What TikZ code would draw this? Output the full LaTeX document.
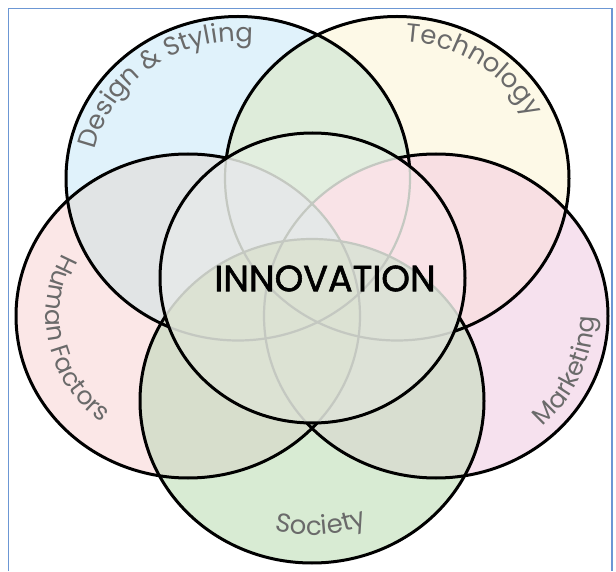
\documentclass[tikz,border=0pt]{standalone}
\usepackage{fontspec}
\setmainfont{Poppins}
\newfontfamily\innofont[FakeBold=1.6]{Poppins}
\usetikzlibrary{decorations.text}
\definecolor{cD}{RGB}{224,242,251}
\definecolor{cT}{RGB}{253,249,231}
\definecolor{cH}{RGB}{251,231,231}
\definecolor{cM}{RGB}{246,225,238}
\definecolor{cS}{RGB}{216,235,211}
\definecolor{cDT}{RGB}{222,236,218}
\definecolor{cTM}{RGB}{248,223,227}
\definecolor{cMS}{RGB}{216,222,208}
\definecolor{cSH}{RGB}{215,222,204}
\definecolor{cHD}{RGB}{225,228,229}
\definecolor{labelgrey}{RGB}{106,106,106}
\definecolor{innergrey}{RGB}{196,200,193}
\definecolor{framecol}{RGB}{108,151,212}
\tikzset{
  outer/.style={x radius=172, y radius=162},
  inner/.style={x radius=152.5, y radius=145},
  blackline/.style={draw=black, line width=3pt},
  innerline/.style={draw=innergrey, line width=2.2pt},
  labelpath/.style={decorate, decoration={text along path, text align=center, text color=labelgrey, text={#1}}}
}
\begin{document}
\begin{tikzpicture}[x=1pt,y=1pt]
\useasboundingbox (0,0) rectangle (616,571);
\fill[white] (0,0) rectangle (616,571);
\coordinate (C) at (312.5,293);
\coordinate (D) at (238,392.5);
\coordinate (T) at (397,392.5);
\coordinate (H) at (188,255);
\coordinate (M) at (436,255);
\coordinate (S) at (312,170);
% single fills
\fill[cD] (D) ellipse[outer];
\fill[cT] (T) ellipse[outer];
\fill[cH] (H) ellipse[outer];
\fill[cM] (M) ellipse[outer];
\fill[cS] (S) ellipse[outer];
% pair overlaps
\begin{scope}\clip (D) ellipse[outer]; \fill[cDT] (T) ellipse[outer];\end{scope}
\begin{scope}\clip (T) ellipse[outer]; \fill[cTM] (M) ellipse[outer];\end{scope}
\begin{scope}\clip (H) ellipse[outer]; \fill[cHD] (D) ellipse[outer];\end{scope}
\begin{scope}\clip (M) ellipse[outer]; \fill[cMS] (S) ellipse[outer];\end{scope}
\begin{scope}\clip (S) ellipse[outer]; \fill[cSH] (H) ellipse[outer];\end{scope}
\fill[white, fill opacity=0.15] (C) ellipse[inner];
% faint arcs inside the central circle
\begin{scope}
\clip (C) ellipse[inner];
\foreach \p in {D,T,H,M,S}{\draw[innerline] (\p) ellipse[outer];}
\end{scope}
% black arcs outside the central circle
\begin{scope}
\clip (0,0) -- (616,0) -- (616,571) -- (0,571) -- cycle (465,293) arc[start angle=0, end angle=-360, x radius=152.5, y radius=145] -- cycle;
\foreach \p in {D,T,H,M,S}{\draw[blackline] (\p) ellipse[outer];}
\end{scope}
\draw[blackline] (C) ellipse[inner];
% labels
{\fontsize{26}{26}\selectfont
\path[labelpath={Design {\&} Styling}] (D) ++(207:146 and 137) arc[start angle=207, end angle=47, x radius=146, y radius=137];
\path[labelpath={Technology}] (T) ++(135:146 and 137) arc[start angle=135, end angle=-25, x radius=146, y radius=137];
\path[labelpath={Society}] (S) ++(194:142 and 134) arc[start angle=194, end angle=354, x radius=142, y radius=134];
}
{\fontsize{25}{25}\selectfont
\path[labelpath={Human Factors}] (H) ++(112:142 and 134) arc[start angle=112, end angle=272, x radius=142, y radius=134];
\path[labelpath={Marketing}] (M) ++(-103:158 and 149) arc[start angle=-103, end angle=57, x radius=158, y radius=149];
}
\node (inno) at (325,292.5) {\fontsize{36.5}{36.5}\selectfont\innofont INNOVATION};
% frame
\draw[framecol, line width=1.5pt] (8.5,0) -- (8.5,562.5) -- (612,562.5) -- (612,0);
\end{tikzpicture}
\end{document}
